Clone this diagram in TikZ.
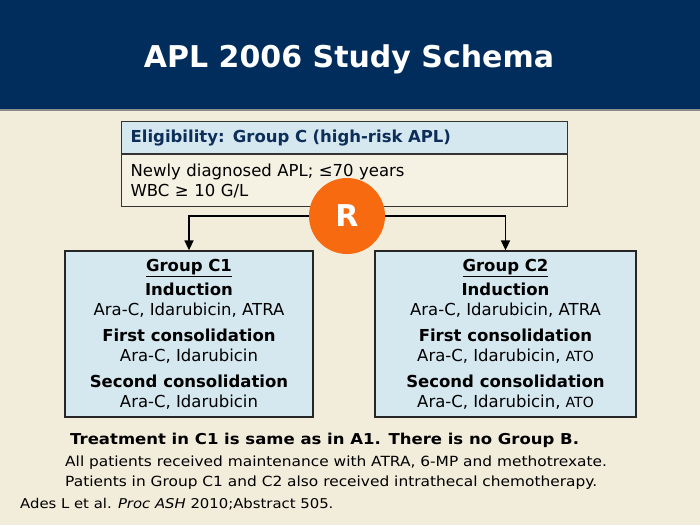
\documentclass[tikz,border=0pt]{standalone}
\usepackage{xcolor}
\usepackage{fontspec}
\setmainfont{DejaVu Sans}
\newfontfamily\notefont[FakeStretch=1.1]{DejaVu Sans}
\usepackage{tikz}
\usetikzlibrary{arrows.meta, positioning}

\definecolor{titlenavy}{HTML}{002D5C}
\definecolor{bgbeige}{HTML}{F2ECDA}
\definecolor{boxblue}{HTML}{D5E8F0}
\definecolor{rorange}{HTML}{F86A10}
\definecolor{headnavy}{HTML}{0E2E5A}

\begin{document}
\begin{tikzpicture}[
    x=1pt, y=-1pt,
    headbox/.style={draw=black!80, line width=1.2pt, fill=boxblue, minimum width=446pt, minimum height=32pt,
        inner xsep=9pt, text width=428pt, align=left, font=\fontsize{16.5}{19}\selectfont\bfseries, text=headnavy},
    bodybox/.style={draw=black!80, line width=1.2pt, fill=bgbeige!75!white, minimum width=446pt, minimum height=52pt,
        inner xsep=9pt, text width=428pt, align=left, font=\fontsize{16.5}{20}\selectfont},
    groupbox/.style={draw=black!85, line width=1.3pt, fill=boxblue, minimum height=166pt, align=center,
        font=\fontsize{16.5}{19.5}\selectfont},
    rnode/.style={circle, fill=rorange, minimum size=76pt, inner sep=0pt, text=white, font=\fontsize{30}{30}\selectfont\bfseries},
    conn/.style={-{Triangle[width=9pt,length=10pt]}, line width=1.5pt, black},
    note/.style={inner sep=0pt, anchor=base west}
]
\useasboundingbox (0,0) rectangle (700,525);
\fill[bgbeige] (0,0) rectangle (700,525);
\fill[titlenavy] (0,0) rectangle (700,109);
\draw[black!45, line width=1.2pt] (0,110) -- (700,110);

\node[inner sep=0pt, anchor=base, text=white, font=\fontsize{30}{30}\selectfont\bfseries] (title) at (349,67) {APL 2006 Study Schema};

% eligibility
\node[headbox, anchor=north west] (head) at (121,121) {Eligibility: Group C (high-risk APL)};
\node[bodybox, below=0pt of head] (body) {Newly diagnosed APL; ≤70 years\\WBC ≥ 10 G/L};

% randomised arms
\node[groupbox, minimum width=248pt] (C1) at (189,334) {%
    \textbf{\underline{Group C1}}\\[5pt]
    \textbf{Induction}\\ Ara-C, Idarubicin, ATRA\\[7pt]
    \textbf{First consolidation}\\ Ara-C, Idarubicin\\[7pt]
    \textbf{Second consolidation}\\ Ara-C, Idarubicin};
\node[groupbox, minimum width=261pt] (C2) at (505.5,334) {%
    \textbf{\underline{Group C2}}\\[5pt]
    \textbf{Induction}\\ Ara-C, Idarubicin, ATRA\\[7pt]
    \textbf{First consolidation}\\ Ara-C, Idarubicin, {\fontsize{14}{14}\selectfont ATO}\\[7pt]
    \textbf{Second consolidation}\\ Ara-C, Idarubicin, {\fontsize{14}{14}\selectfont ATO}};

\node[rnode] (R) at (347,216) {R};

\draw[conn] (R) -| (C1);
\draw[conn] (R) -| (C2);

% notes
\node[note, font=\notefont\fontsize{15}{15}\selectfont\bfseries] (treat) at (70,444) {Treatment in C1 is same as in A1. There is no Group B.};
\node[note, font=\notefont\fontsize{14}{14}\selectfont] (maint) at (65,466) {All patients received maintenance with ATRA, 6-MP and methotrexate.};
\node[note, font=\notefont\fontsize{14}{14}\selectfont] (intra) at (65,486) {Patients in Group C1 and C2 also received intrathecal chemotherapy.};
\node[note, font=\notefont\fontsize{13.5}{13.5}\selectfont] (ref) at (20,508) {Ades L et al. \textit{Proc ASH} 2010;Abstract 505.};
\end{tikzpicture}
\end{document}
